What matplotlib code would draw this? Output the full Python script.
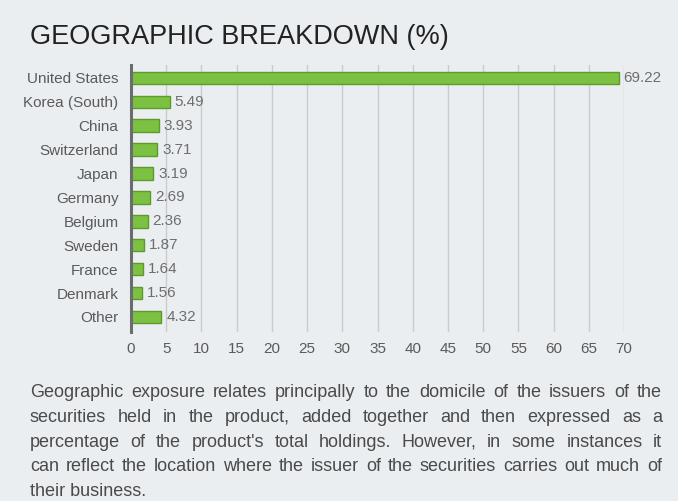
import matplotlib
matplotlib.use("Agg")
import matplotlib.pyplot as plt

countries = ["United States", "Korea (South)", "China", "Switzerland", "Japan",
             "Germany", "Belgium", "Sweden", "France", "Denmark", "Other"]
weights = [69.22, 5.49, 3.93, 3.71, 3.19, 2.69, 2.36, 1.87, 1.64, 1.56, 4.32]
x_ticks = list(range(0, 71, 5))

title = "GEOGRAPHIC BREAKDOWN (%)"
note_lines = [
    "Geographic exposure relates principally to the domicile of the issuers of the",
    "securities held in the product, added together and then expressed as a",
    "percentage of the product's total holdings. However, in some instances it",
    "can reflect the location where the issuer of the securities carries out much of",
    "their business.",
]

BG = "#ebeef1"
GREEN = "#7dc142"
GREEN_EDGE = "#5c9a2c"

plt.rcParams["font.family"] = ["Liberation Sans", "DejaVu Sans"]

W, H = 678, 501
fig = plt.figure(figsize=(W / 100, H / 100), dpi=100, facecolor=BG)

# axes placed in pixel terms: x 131..624, y 65..332
ax = fig.add_axes([131 / W, 1 - 332 / H, (624 - 131) / W, (332 - 65) / H])
ax.set_facecolor(BG)

ypos = list(range(len(countries)))
ax.barh(ypos, weights, height=0.52, color=GREEN, edgecolor=GREEN_EDGE,
        linewidth=1.0, zorder=3)
for y, v in zip(ypos, weights):
    ax.text(v + 0.7, y, f"{v:.2f}", va="center", ha="left", fontsize=11,
            color="#6e6e6e", zorder=4, clip_on=False)

ax.set_xlim(0, 70)
ax.set_ylim(10.63, -0.54)
ax.set_xticks(x_ticks)
ax.set_xticklabels([str(t) for t in x_ticks])
ax.set_yticks(ypos)
ax.set_yticklabels(countries)
ax.tick_params(axis="both", length=0, labelsize=11, labelcolor="#5a5a5a")
ax.tick_params(axis="y", pad=9)
ax.tick_params(axis="x", pad=7)

ax.grid(axis="x", color="#c9cccf", linewidth=1.0, zorder=1)
for s in ["top", "right", "bottom"]:
    ax.spines[s].set_visible(False)
ax.spines["left"].set_color("#6a6d70")
ax.spines["left"].set_linewidth(2.2)
ax.spines["left"].set_zorder(5)

fig.text(30 / W, 1 - 37 / H, title, fontsize=19.5, color="#222222",
         ha="left", va="center")

# justified paragraph below the chart
renderer = fig.canvas.get_renderer()
x_left, x_right = 30, 662
base0, step = 397, 24.8
txt_kw = dict(fontsize=13, color="#4a4a4a", ha="left", va="baseline")
for i, line in enumerate(note_lines):
    yb = 1 - (base0 + i * step) / H
    words = line.split(" ")
    if i == len(note_lines) - 1:
        fig.text(x_left / W, yb, line, **txt_kw)
        continue
    texts = [fig.text(0, yb, w, **txt_kw) for w in words]
    widths = [t.get_window_extent(renderer).width for t in texts]
    gap = (x_right - x_left - sum(widths)) / (len(words) - 1)
    x = x_left
    for t, w in zip(texts, widths):
        t.set_x(x / W)
        x += w + gap

fig.savefig("out.png", dpi=100, facecolor=BG)
